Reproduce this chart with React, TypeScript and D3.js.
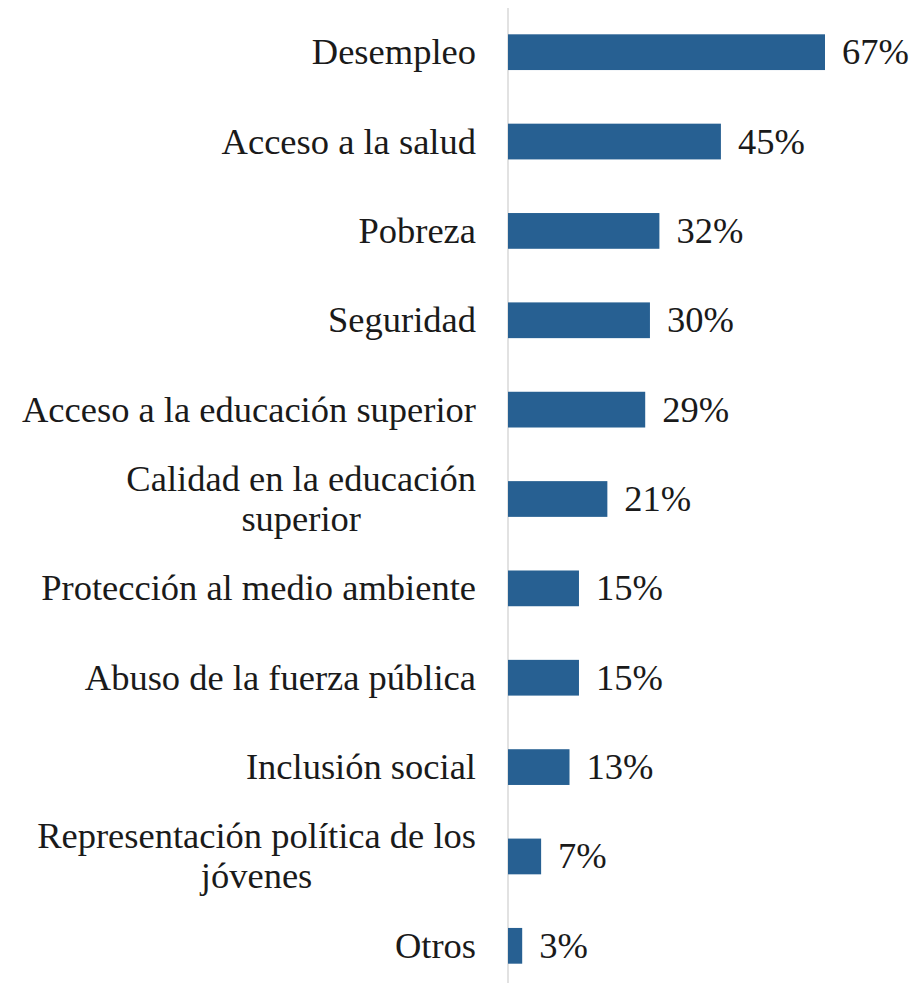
import React from "react";
import * as d3 from "d3";

const categories: string[][] = [
  ["Desempleo"],
  ["Acceso a la salud"],
  ["Pobreza"],
  ["Seguridad"],
  ["Acceso a la educación superior"],
  ["Calidad en la educación", "superior"],
  ["Protección al medio ambiente"],
  ["Abuso de la fuerza pública"],
  ["Inclusión social"],
  ["Representación política de los", "jóvenes"],
  ["Otros"],
];
const values: number[] = [67, 45, 32, 30, 29, 21, 15, 15, 13, 7, 3];
const valueLabels: string[] = values.map((v) => `${v}%`);

const W = 919;
const H = 983;
const AXIS_X = 508;
const FONT = "'Liberation Serif', 'Times New Roman', serif";
const FS = 36.5;

export default function App() {
  const keys = categories.map((_, i) => String(i));
  const y = d3
    .scaleBand<string>()
    .domain(keys)
    .range([7.5, 990.5])
    .paddingInner(0.6)
    .paddingOuter(0.3);
  const x = d3.scaleLinear().domain([0, 67]).range([AXIS_X, 825]);
  const bw = y.bandwidth();

  return (
    <div style={{ position: "absolute", left: 0, top: 0 }}>
      <svg width={W} height={H} style={{ display: "block", background: "#fff" }}>
        <line x1={AXIS_X} x2={AXIS_X} y1={8} y2={H} stroke="#d9d9d9" strokeWidth={1.5} />
        {values.map((v, i) => {
          const yc = (y(keys[i]) as number) + bw / 2;
          const lines = categories[i];
          return (
            <g key={i}>
              <rect x={x(0)} y={yc - bw / 2} width={x(v) - x(0)} height={bw} fill="#276092" />
              <text
                x={x(v) + 17}
                y={yc + 12}
                fontFamily={FONT}
                fontSize={FS}
                fill="#1a1a1a"
              >
                {valueLabels[i]}
              </text>
              {lines.length === 1 ? (
                <text
                  x={476}
                  y={yc + 12}
                  textAnchor="end"
                  fontFamily={FONT}
                  fontSize={FS}
                  fill="#1a1a1a"
                >
                  {lines[0]}
                </text>
              ) : (
                <MultiLine lines={lines} yc={yc} />
              )}
            </g>
          );
        })}
      </svg>
    </div>
  );
}

function MultiLine({ lines, yc }: { lines: string[]; yc: number }) {
  const ref = React.useRef<SVGGElement>(null);
  const [cx, setCx] = React.useState<number | null>(null);
  React.useLayoutEffect(() => {
    if (ref.current) {
      const t = ref.current.querySelector("text") as SVGTextElement;
      const w = t.getComputedTextLength();
      setCx(476 - w / 2);
    }
  }, []);
  const lh = 40;
  const n = lines.length;
  return (
    <g ref={ref}>
      {lines.map((l, j) => (
        <text
          key={j}
          x={cx ?? 300}
          y={yc + 12 + (j - (n - 1) / 2) * lh}
          textAnchor="middle"
          fontFamily={FONT}
          fontSize={FS}
          fill="#1a1a1a"
        >
          {l}
        </text>
      ))}
    </g>
  );
}
